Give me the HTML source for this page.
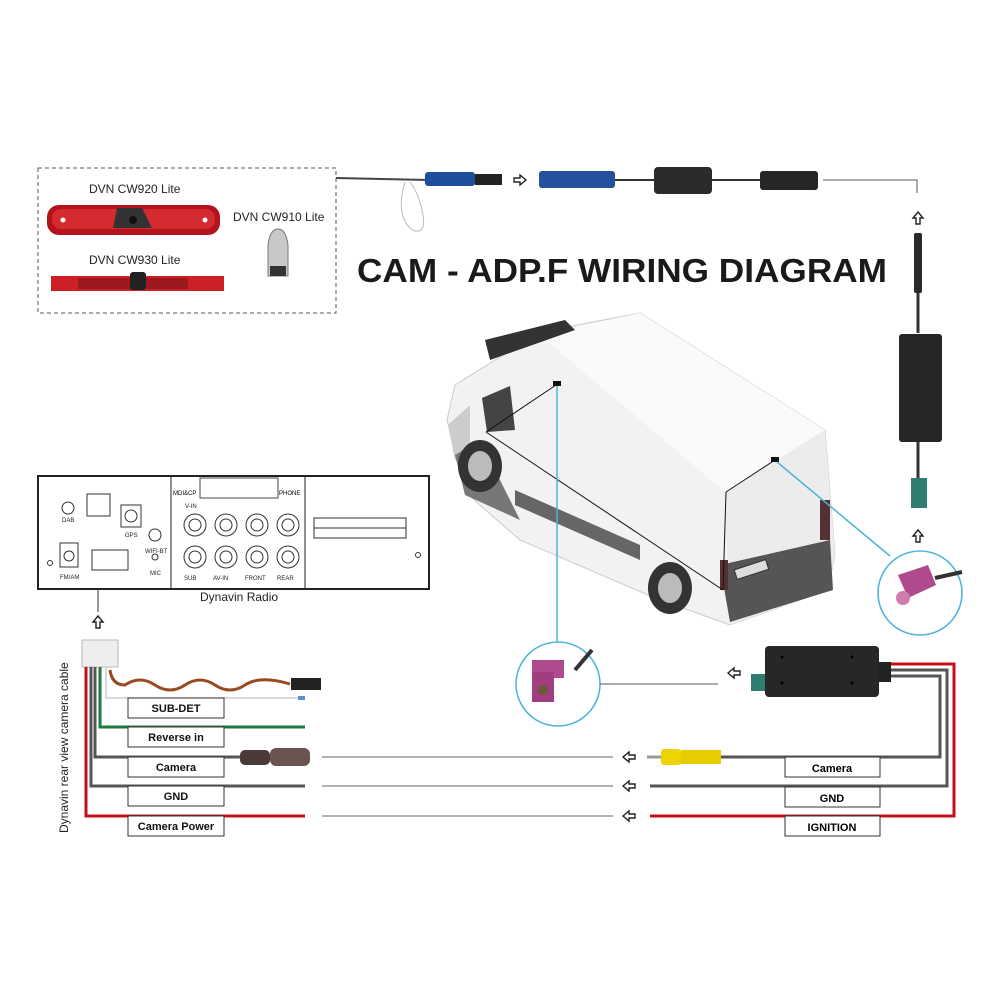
<!DOCTYPE html>
<html><head><meta charset="utf-8"><style>
html,body{margin:0;padding:0;background:#fff;width:1000px;height:1000px;overflow:hidden}
svg{display:block}
text{font-family:"Liberation Sans",Arial,sans-serif}
</style></head><body>
<svg width="1000" height="1000" viewBox="0 0 1000 1000" xmlns="http://www.w3.org/2000/svg">
<defs>
<path id="al" d="M-6,0 L0,-5 L0,-2 L6,-2 L6,2 L0,2 L0,5 Z" fill="#fff" stroke="#222" stroke-width="1.4" stroke-linejoin="miter"/>
</defs>
<rect width="1000" height="1000" fill="#fff"/>

<!-- Top-left camera box -->
<rect x="38" y="168" width="298" height="145" fill="none" stroke="#555" stroke-width="1" stroke-dasharray="4,3"/>
<text x="89" y="193" font-size="12" fill="#222">DVN CW920 Lite</text>
<rect x="47" y="205" width="173" height="30" rx="12" fill="#b3141c"/>
<rect x="52" y="209" width="163" height="20" rx="9" fill="#d42a30"/>
<circle cx="63" cy="220" r="2.5" fill="#fff"/><circle cx="205" cy="220" r="2.5" fill="#fff"/>
<path d="M113 228 L117 208 L142 208 L152 228 Z" fill="#333"/>
<circle cx="133" cy="220" r="4" fill="#111"/>
<text x="89" y="264" font-size="12" fill="#222">DVN CW930 Lite</text>
<rect x="51" y="276" width="173" height="15" fill="#cc1f26"/>
<rect x="78" y="278" width="110" height="11" fill="#9c1a1e"/>
<rect x="130" y="272" width="16" height="18" rx="3" fill="#222"/>
<text x="233" y="221" font-size="12" fill="#222">DVN CW910 Lite</text>
<path d="M268 276 L268 245 Q270 229 278 229 Q286 229 288 245 L288 276 Z" fill="#c8c8c8" stroke="#777"/>
<rect x="270" y="266" width="16" height="10" fill="#333"/>

<!-- top chain -->
<line x1="336" y1="178" x2="430" y2="180" stroke="#444" stroke-width="2"/>
<path d="M405 182 Q395 215 412 230 Q428 236 422 210 Q418 192 410 182" fill="none" stroke="#bbb" stroke-width="1"/>
<rect x="425" y="172" width="50" height="14" rx="3" fill="#1f4f9c"/>
<rect x="475" y="174" width="27" height="11" fill="#222"/>
<use href="#al" transform="translate(520,180) rotate(180)"/>
<rect x="539" y="171" width="76" height="17" rx="3" fill="#24509e"/>
<line x1="615" y1="180" x2="655" y2="180" stroke="#333" stroke-width="2"/>
<rect x="654" y="167" width="58" height="27" rx="4" fill="#2b2b2b"/>
<line x1="712" y1="180" x2="760" y2="180" stroke="#333" stroke-width="2"/>
<rect x="760" y="171" width="58" height="19" rx="3" fill="#262626"/>
<polyline points="823,180 917,180 917,193" fill="none" stroke="#555" stroke-width="1"/>
<use href="#al" transform="translate(918,218) rotate(90)"/>
<rect x="914" y="233" width="8" height="60" rx="2" fill="#2a2a2a"/>
<line x1="918" y1="293" x2="918" y2="333" stroke="#333" stroke-width="3"/>
<rect x="899" y="334" width="43" height="108" rx="3" fill="#262626"/>
<line x1="918" y1="442" x2="918" y2="478" stroke="#333" stroke-width="3"/>
<rect x="911" y="478" width="16" height="30" fill="#2f7d70"/>
<use href="#al" transform="translate(918,536) rotate(90)"/>

<!-- Title -->
<text x="357" y="282" font-size="33" font-weight="bold" fill="#1a1a1a" textLength="530" lengthAdjust="spacingAndGlyphs">CAM - ADP.F WIRING DIAGRAM</text>

<!-- Van -->
<polygon points="455,385 540,332 640,313 825,430 835,555 828,590 730,625 655,598 520,540 465,492 447,420" fill="#f2f2f2" stroke="#ccc"/>
<polygon points="540,335 640,313 825,430 725,492" fill="#fafafa"/>
<polygon points="725,492 825,430 835,555 828,590 730,625" fill="#ececec"/>
<polygon points="720,565 830,540 833,590 730,622" fill="#555"/>
<polygon points="485,340 565,320 575,330 490,360" fill="#333"/>
<polygon points="482,398 510,386 515,430 487,432" fill="#444"/>
<polygon points="448,425 470,405 470,460 455,460" fill="#ccc"/>
<polygon points="455,455 480,440 520,520 465,495" fill="#777"/>
<ellipse cx="480" cy="466" rx="22" ry="26" fill="#333"/><ellipse cx="480" cy="466" rx="12" ry="15" fill="#bbb"/>
<ellipse cx="670" cy="588" rx="22" ry="26" fill="#333"/><ellipse cx="670" cy="588" rx="12" ry="15" fill="#bbb"/>
<polygon points="515,490 640,545 640,560 515,505" fill="#666"/>
<rect x="820" y="500" width="10" height="40" fill="#553033"/>
<rect x="720" y="560" width="8" height="30" fill="#553033"/>
<rect x="735" y="565" width="33" height="10" fill="#ddd" stroke="#333" transform="rotate(-18 750 570)"/>
<line x1="486" y1="432" x2="723" y2="590" stroke="#111" stroke-width="1"/>
<line x1="486" y1="432" x2="556" y2="385" stroke="#111" stroke-width="1"/>
<line x1="726" y1="492" x2="775" y2="460" stroke="#111" stroke-width="1"/>
<line x1="726" y1="492" x2="723" y2="590" stroke="#111" stroke-width="1"/>
<rect x="553" y="381" width="8" height="5" fill="#111"/><rect x="771" y="457" width="8" height="5" fill="#111"/>
<line x1="557" y1="386" x2="557" y2="642" stroke="#4ab3dc" stroke-width="1.5"/>
<line x1="777" y1="462" x2="890" y2="556" stroke="#4ab3dc" stroke-width="1.5"/>

<!-- circles -->
<circle cx="558" cy="684" r="42" fill="#fff" stroke="#4ab3dc" stroke-width="1.5"/>
<path d="M575 670 L592 650" stroke="#333" stroke-width="4"/>
<rect x="532" y="660" width="32" height="18" fill="#b04a8e"/>
<rect x="532" y="672" width="22" height="30" fill="#a13e80"/>
<circle cx="543" cy="690" r="5" fill="#6b5a3a"/>
<circle cx="920" cy="593" r="42" fill="#fff" stroke="#4ab3dc" stroke-width="1.5"/>
<path d="M935 578 L962 572" stroke="#333" stroke-width="4"/>
<polygon points="898,575 928,565 936,585 908,598" fill="#b04a8e"/>
<circle cx="903" cy="598" r="7" fill="#d07bb0"/>
<line x1="600" y1="684" x2="718" y2="684" stroke="#555" stroke-width="1"/>
<use href="#al" transform="translate(734,673)"/>
<rect x="751" y="674" width="14" height="17" fill="#2f7d70"/>
<rect x="765" y="646" width="114" height="51" rx="4" fill="#272727"/>
<circle cx="782" cy="657" r="1.5" fill="#000"/><circle cx="852" cy="657" r="1.5" fill="#000"/>
<circle cx="782" cy="683" r="1.5" fill="#000"/><circle cx="852" cy="683" r="1.5" fill="#000"/>
<rect x="879" y="662" width="12" height="20" fill="#222"/>

<!-- right harness -->
<polyline points="891,664 954,664 954,816 650,816" fill="none" stroke="#c1121b" stroke-width="3"/>
<polyline points="891,670 947,670 947,786 650,786" fill="none" stroke="#555" stroke-width="3"/>
<polyline points="891,676 940,676 940,757 720,757" fill="none" stroke="#555" stroke-width="3"/>
<path d="M647 757 L663 757" stroke="#999" stroke-width="3"/>
<rect x="661" y="749" width="20" height="16" rx="3" fill="#ecd400"/>
<rect x="681" y="750" width="40" height="14" fill="#e6cc00"/>
<rect x="785" y="757" width="95" height="20" fill="#fff" stroke="#333"/>
<rect x="785" y="787" width="95" height="20" fill="#fff" stroke="#333"/>
<rect x="785" y="816" width="95" height="20" fill="#fff" stroke="#333"/>
<text x="832" y="772" font-size="11" font-weight="bold" text-anchor="middle">Camera</text>
<text x="832" y="802" font-size="11" font-weight="bold" text-anchor="middle">GND</text>
<text x="832" y="831" font-size="11" font-weight="bold" text-anchor="middle">IGNITION</text>
<use href="#al" transform="translate(629,757)"/>
<use href="#al" transform="translate(629,786)"/>
<use href="#al" transform="translate(629,816)"/>
<line x1="322" y1="757" x2="613" y2="757" stroke="#666" stroke-width="1"/>
<line x1="322" y1="786" x2="613" y2="786" stroke="#666" stroke-width="1"/>
<line x1="322" y1="816" x2="613" y2="816" stroke="#666" stroke-width="1"/>

<!-- Radio -->
<rect x="38" y="476" width="391" height="113" fill="#fff" stroke="#222" stroke-width="2"/>
<line x1="171" y1="476" x2="171" y2="589" stroke="#222"/>
<line x1="305" y1="476" x2="305" y2="589" stroke="#222"/>
<rect x="200" y="478" width="78" height="20" fill="#fff" stroke="#444"/>
<text x="173" y="495" font-size="6">MDI&amp;CP</text><text x="279" y="495" font-size="6">PHONE</text>
<g fill="none" stroke="#333">
<circle cx="68" cy="508" r="6"/><rect x="87" y="494" width="23" height="22"/>
<rect x="121" y="505" width="20" height="22"/><circle cx="131" cy="516" r="6"/>
<circle cx="155" cy="535" r="6"/><circle cx="155" cy="557" r="3"/>
<rect x="60" y="543" width="18" height="24"/><circle cx="69" cy="556" r="5"/>
<rect x="92" y="550" width="36" height="20"/>
<circle cx="195" cy="525" r="11"/><circle cx="226" cy="525" r="11"/><circle cx="257" cy="525" r="11"/><circle cx="288" cy="525" r="11"/>
<circle cx="195" cy="557" r="11"/><circle cx="226" cy="557" r="11"/><circle cx="257" cy="557" r="11"/><circle cx="288" cy="557" r="11"/>
<circle cx="195" cy="525" r="6"/><circle cx="226" cy="525" r="6"/><circle cx="257" cy="525" r="6"/><circle cx="288" cy="525" r="6"/>
<circle cx="195" cy="557" r="6"/><circle cx="226" cy="557" r="6"/><circle cx="257" cy="557" r="6"/><circle cx="288" cy="557" r="6"/>
<rect x="314" y="518" width="92" height="20"/><line x1="314" y1="528" x2="406" y2="528"/><circle cx="418" cy="555" r="2.5"/><circle cx="50" cy="563" r="2.5"/>
</g>
<g font-size="6" fill="#222">
<text x="62" y="522">DAB</text><text x="125" y="537">GPS</text><text x="145" y="553">WIFI-BT</text><text x="150" y="575">MIC</text>
<text x="60" y="579">FM/AM</text><text x="185" y="508">V-IN</text>
<text x="184" y="580">SUB</text><text x="213" y="580">AV-IN</text><text x="245" y="580">FRONT</text><text x="277" y="580">REAR</text>
</g>
<text x="200" y="601" font-size="12" fill="#222">Dynavin Radio</text>

<!-- left harness -->
<line x1="98" y1="589" x2="98" y2="612" stroke="#333" stroke-width="1"/>
<use href="#al" transform="translate(98,622) rotate(90)"/>
<rect x="82" y="640" width="36" height="27" fill="#eee" stroke="#bbb"/>
<polyline points="86,667 86,816 305,816" fill="none" stroke="#c1121b" stroke-width="3"/>
<polyline points="91,667 91,786 305,786" fill="none" stroke="#555" stroke-width="3"/>
<polyline points="95,667 95,757 240,757" fill="none" stroke="#555" stroke-width="3"/>
<polyline points="100,667 100,727 305,727" fill="none" stroke="#1f7a3d" stroke-width="3"/>
<polyline points="106,667 106,698 302,698" fill="none" stroke="#ccc" stroke-width="1.5"/>
<rect x="298" y="696" width="7" height="4" fill="#5a8fd0"/>
<path d="M110 670 Q112 685 125 685 Q140 675 155 685 Q170 695 185 685 Q200 675 215 685 Q230 695 245 685 Q260 675 290 684" fill="none" stroke="#9a4a20" stroke-width="3"/>
<rect x="291" y="678" width="30" height="12" fill="#222"/>
<rect x="240" y="750" width="30" height="15" rx="5" fill="#4a3a38"/>
<rect x="270" y="748" width="40" height="18" rx="6" fill="#6a5450"/>
<g fill="#fff" stroke="#333">
<rect x="128" y="698" width="96" height="20"/><rect x="128" y="727" width="96" height="20"/>
<rect x="128" y="757" width="96" height="20"/><rect x="128" y="786" width="96" height="20"/>
<rect x="128" y="816" width="96" height="20"/></g>
<g font-size="11" font-weight="bold" text-anchor="middle" fill="#111">
<text x="176" y="712">SUB-DET</text><text x="176" y="741">Reverse in</text>
<text x="176" y="771">Camera</text><text x="176" y="800">GND</text><text x="176" y="830">Camera Power</text></g>
<text transform="translate(68,833) rotate(-90)" font-size="12" fill="#222">Dynavin rear view camera cable</text>
</svg>
</body></html>
